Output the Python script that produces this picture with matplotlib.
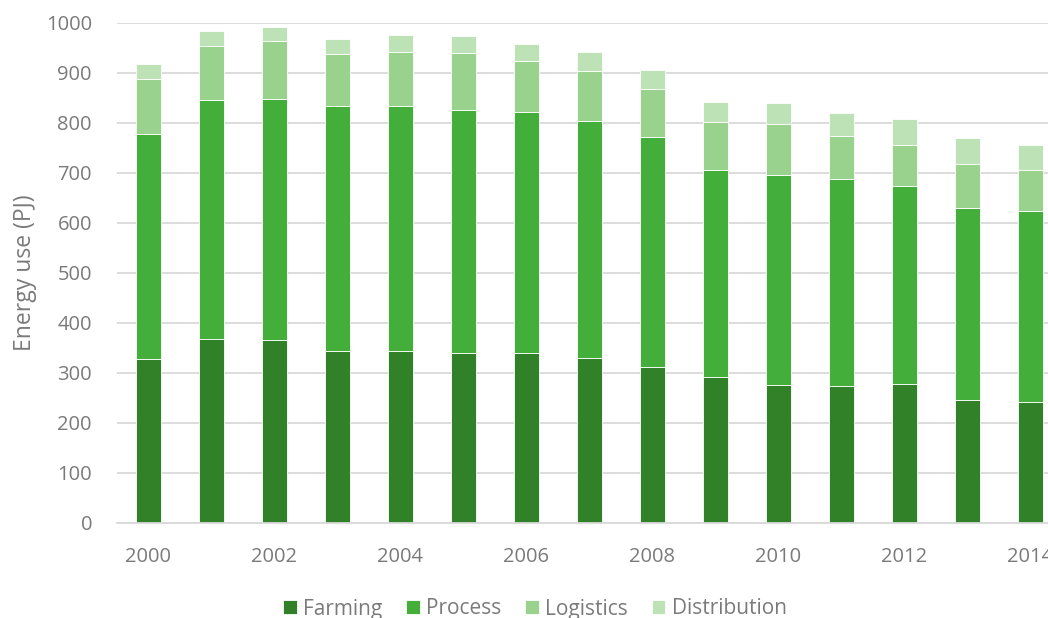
import matplotlib
matplotlib.use("Agg")
import matplotlib.pyplot as plt
import numpy as np

years = list(range(2000, 2015))
farming = [329, 368, 366, 345, 345, 341, 341, 331, 313, 293, 277, 275, 279, 247, 243]
process = [450, 479, 483, 489, 490, 486, 481, 474, 459, 413, 420, 414, 396, 384, 382]
logistics = [110, 108, 115, 104, 108, 114, 103, 100, 97, 97, 102, 86, 82, 88, 82]
distribution = [30, 30, 29, 30, 33, 34, 34, 38, 38, 39, 41, 46, 51, 52, 50]

series = [
    ("Farming", farming, "#318129"),
    ("Process", process, "#44AE3A"),
    ("Logistics", logistics, "#98D28C"),
    ("Distribution", distribution, "#BCE2B5"),
]

plt.rcParams["font.family"] = ["Open Sans", "DejaVu Sans"]
text_color = "#7A7A7A"

fig = plt.figure(figsize=(10.48, 6.18), dpi=100)
ax = fig.add_axes([117 / 1048, 95 / 618, 1 - 117 / 1048, 500 / 618])

x = np.arange(len(years))
bottom = np.zeros(len(years))
handles = []
for name, vals, color in series:
    h = ax.bar(x, vals, width=0.4, bottom=bottom, color=color,
               edgecolor="white", linewidth=0.6, label=name, zorder=3)
    handles.append(h)
    bottom += np.array(vals)

ax.set_xlim(-0.5, -0.5 + 931 / 63)
ax.set_ylim(0, 1000)
ax.set_yticks(range(0, 1001, 100))
ax.set_xticks(x[::2])
ax.set_xticklabels([str(y) for y in years[::2]])
for lbl in ax.get_xticklabels():
    lbl.set_clip_on(False)

ax.grid(axis="y", color="#D9D9D9", linewidth=1.3, zorder=0)
for s in ["top", "right", "left"]:
    ax.spines[s].set_visible(False)
ax.spines["bottom"].set_color("#D9D9D9")
ax.spines["bottom"].set_linewidth(1.3)
ax.spines["bottom"].set_zorder(4)

ax.tick_params(axis="both", length=0, labelsize=14.5, colors=text_color)
ax.tick_params(axis="y", pad=18)
ax.tick_params(axis="x", pad=17)

ax.set_ylabel("Energy use (PJ)", fontsize=16.5, color=text_color)
ax.yaxis.set_label_coords(-80 / 931, 0.5)

fig.legend(handles=handles, labels=[s[0] for s in series], loc="center",
           bbox_to_anchor=(535 / 1048, 1 - 609 / 618), ncol=4, frameon=False,
           fontsize=15, labelcolor=text_color, handlelength=0.65,
           handleheight=0.65, handletextpad=0.3, columnspacing=1.15)

fig.savefig("out.png", dpi=100)
